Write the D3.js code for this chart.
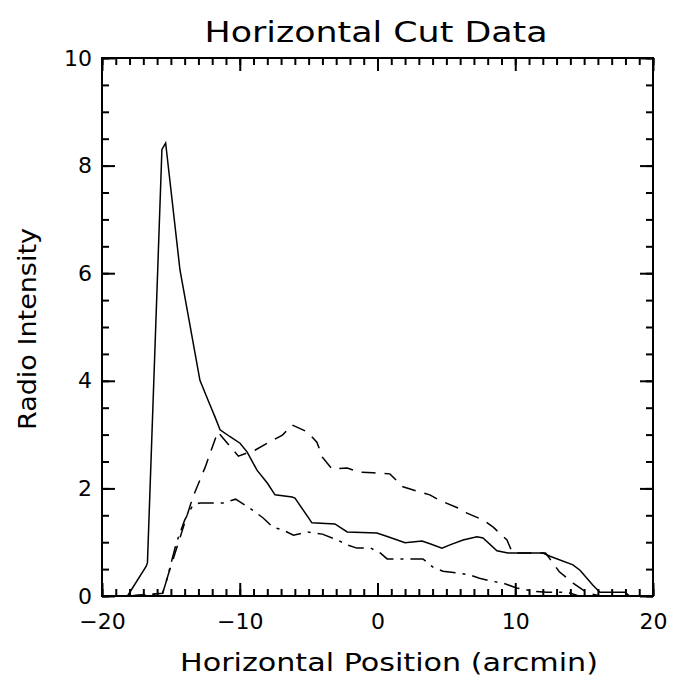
<!DOCTYPE html>
<html>
<head>
<meta charset="utf-8">
<script src="https://cdn.jsdelivr.net/npm/d3@7"></script>
<style>
  html, body { margin: 0; padding: 0; background: #fff; }
  svg { display: block; }
  text { font-family: "DejaVu Sans", sans-serif; fill: #000; }
</style>
</head>
<body>
<svg id="chart" width="675" height="681"></svg>
<script>
// Horizontal cut profiles: three traces of radio intensity vs. position
const solidX = [-18.15, -16.8, -16.7, -15.65, -15.38, -14.34, -12.89, -12.3, -11.8, -11.43, -10.7, -9.98, -9.47, -8.75, -8.0, -7.44, -6.2, -5.99, -4.76, -3.09, -2.2, -0.04, 0.76, 2.0, 3.23, 3.81, 4.68, 5.26, 6.21, 7.22, 7.66, 8.67, 9.47, 12.01, 12.52, 14.19, 14.7, 15.64, 16.15, 17.97, 18.3];
const solidY = [0, 0.55, 0.62, 8.3, 8.42, 6.06, 4.01, 3.64, 3.33, 3.09, 2.96, 2.84, 2.68, 2.34, 2.1, 1.88, 1.84, 1.82, 1.36, 1.34, 1.19, 1.17, 1.1, 0.99, 1.02, 0.97, 0.89, 0.95, 1.04, 1.1, 1.08, 0.84, 0.8, 0.8, 0.74, 0.58, 0.48, 0.2, 0.07, 0.07, 0];

const dashedX = [-18.0, -15.6, -15.2, -13.4, -12.5, -11.6, -10.1, -8.9, -8.0, -6.9, -6.2, -5.1, -4.4, -4.0, -3.3, -2.2, -1.3, -0.3, 0.9, 1.85, 2.6, 3.8, 4.5, 5.8, 6.5, 7.7, 8.4, 9.4, 9.8, 12.2, 13.2, 14.2, 15.2, 16.2, 18.0];
const dashedY = [0, 0.05, 0.39, 1.84, 2.4, 3.05, 2.6, 2.71, 2.84, 2.99, 3.18, 3.05, 2.86, 2.58, 2.36, 2.38, 2.3, 2.29, 2.27, 2.03, 1.97, 1.88, 1.78, 1.64, 1.54, 1.41, 1.28, 1.04, 0.8, 0.8, 0.45, 0.24, 0.06, 0, 0];

const dashDotX = [-18.0, -15.6, -15.3, -14.6, -14.0, -13.4, -12.9, -11.2, -10.3, -9.3, -8.3, -7.6, -6.9, -6.1, -5.1, -4.0, -2.9, -2.2, -1.5, -0.5, 0.2, 0.7, 3.3, 4.0, 4.75, 5.8, 6.7, 7.4, 8.2, 9.1, 10.1, 11.3, 12.3, 13.8, 14.6, 18.0];
const dashDotY = [0, 0.05, 0.3, 0.99, 1.41, 1.69, 1.73, 1.73, 1.8, 1.64, 1.45, 1.28, 1.23, 1.13, 1.19, 1.15, 1.04, 0.95, 0.89, 0.89, 0.8, 0.69, 0.69, 0.54, 0.46, 0.43, 0.39, 0.33, 0.28, 0.24, 0.15, 0.09, 0.07, 0.07, 0, 0];

const xMajorTicks = [-20, -10, 0, 10, 20];
const yMajorTicks = [0, 2, 4, 6, 8, 10];
const xMinorTicks = d3.range(-20, 21, 1);
const yMinorTicks = d3.range(0, 10.01, 0.5);

const titleText = "Horizontal Cut Data";
const xLabelText = "Horizontal Position (arcmin)";
const yLabelText = "Radio Intensity";

const svg = d3.select("#chart");
const plotLeft = 102, plotRight = 653, plotTop = 58, plotBottom = 596;

const x = d3.scaleLinear().domain([-20, 20]).range([plotLeft, plotRight]);
const y = d3.scaleLinear().domain([0, 10]).range([plotBottom, plotTop]);

// inward-pointing ticks on all four sides
function tickLayer(axis, transform) {
  const g = svg.append("g").attr("transform", transform).call(axis);
  g.select(".domain").remove();
  g.selectAll(".tick line").attr("stroke", "#000").attr("stroke-width", 2);
  return g;
}
const none = () => "";
tickLayer(d3.axisBottom(x).tickValues(xMinorTicks).tickSize(-7).tickFormat(none), `translate(0,${plotBottom})`);
tickLayer(d3.axisTop(x).tickValues(xMinorTicks).tickSize(-7).tickFormat(none), `translate(0,${plotTop})`);
tickLayer(d3.axisLeft(y).tickValues(yMinorTicks).tickSize(-7).tickFormat(none), `translate(${plotLeft},0)`);
tickLayer(d3.axisRight(y).tickValues(yMinorTicks).tickSize(-7).tickFormat(none), `translate(${plotRight},0)`);
tickLayer(d3.axisTop(x).tickValues(xMajorTicks).tickSize(-13).tickFormat(none), `translate(0,${plotTop})`);
tickLayer(d3.axisRight(y).tickValues(yMajorTicks).tickSize(-13).tickFormat(none), `translate(${plotRight},0)`);

const xAxis = tickLayer(d3.axisBottom(x).tickValues(xMajorTicks).tickSize(-13).tickPadding(22)
  .tickFormat(d => d < 0 ? "\u2212" + Math.abs(d) : String(d)), `translate(0,${plotBottom})`);
xAxis.selectAll("text").attr("font-size", 22).attr("font-family", "DejaVu Sans").attr("dy", "0.5em");

const yAxis = tickLayer(d3.axisLeft(y).tickValues(yMajorTicks).tickSize(-13).tickPadding(10)
  .tickFormat(d3.format("d")), `translate(${plotLeft},0)`);
yAxis.selectAll("text").attr("font-size", 22).attr("font-family", "DejaVu Sans");

// frame
svg.append("rect")
  .attr("x", plotLeft).attr("y", plotTop)
  .attr("width", plotRight - plotLeft).attr("height", plotBottom - plotTop)
  .attr("fill", "none").attr("stroke", "#000").attr("stroke-width", 2);

// profiles
const line = d3.line().x(d => x(d[0])).y(d => y(d[1]));
const series = [
  { xs: solidX, ys: solidY, dash: null },
  { xs: dashedX, ys: dashedY, dash: "14,9" },
  { xs: dashDotX, ys: dashDotY, dash: "16,7,3,7" }
];
series.forEach(s => {
  svg.append("path")
    .datum(s.xs.map((v, i) => [v, s.ys[i]]))
    .attr("d", line)
    .attr("fill", "none")
    .attr("stroke", "#000")
    .attr("stroke-width", 1.5)
    .attr("stroke-dasharray", s.dash);
});

// titles
svg.append("text")
  .attr("x", 376).attr("y", 42)
  .attr("text-anchor", "middle")
  .attr("font-size", 28)
  .attr("textLength", 343).attr("lengthAdjust", "spacingAndGlyphs")
  .text(titleText);

svg.append("text")
  .attr("x", 389).attr("y", 671)
  .attr("text-anchor", "middle")
  .attr("font-size", 24)
  .attr("textLength", 418).attr("lengthAdjust", "spacingAndGlyphs")
  .text(xLabelText);

svg.append("text")
  .attr("transform", "translate(36,329) rotate(-90)")
  .attr("text-anchor", "middle")
  .attr("font-size", 24)
  .attr("textLength", 202).attr("lengthAdjust", "spacingAndGlyphs")
  .text(yLabelText);
</script>
</body>
</html>
